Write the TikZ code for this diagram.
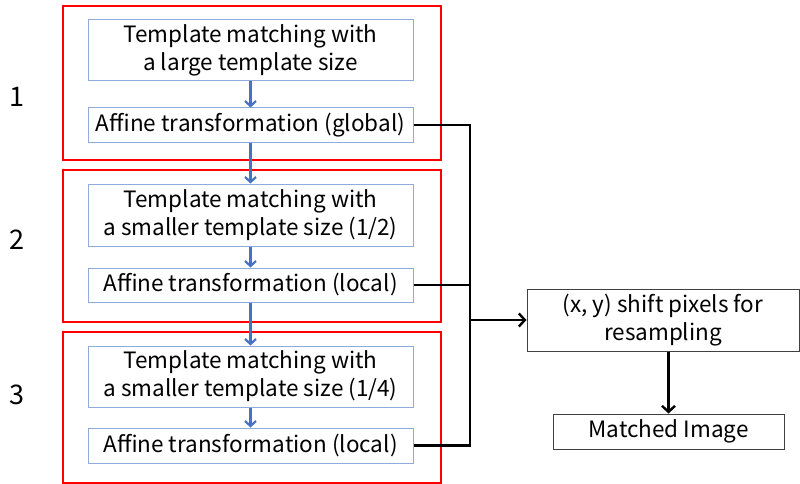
\documentclass[tikz,border=0pt]{standalone}
\usepackage{fontspec}
\setmainfont{Noto Sans CJK JP}
\usetikzlibrary{arrows.meta}
\definecolor{boxblue}{RGB}{143,170,220}
\definecolor{arrowblue}{RGB}{68,114,196}
\begin{document}
\begin{tikzpicture}[x=1pt,y=-1pt,
  stage/.style={draw=red,line width=2pt,minimum width=378pt},
  step box/.style={draw=boxblue,line width=1pt,align=center,font=\fontsize{22.5}{28}\selectfont,minimum width=325pt,inner sep=0pt},
  out box/.style={draw=black!75,line width=1pt,align=center,font=\fontsize{22.5}{28}\selectfont,inner sep=0pt},
  blue arrow/.style={draw=arrowblue,line width=2.2pt,-{Straight Barb[length=5pt,width=11pt]}},
  black line/.style={draw=black,line width=2.4pt},
  num/.style={font=\fontsize{27}{30}\selectfont}]
\useasboundingbox (0,0) rectangle (800,484);
\node [stage,minimum height=154pt] (stage1) at (252,83) {};
\node [stage,minimum height=152pt] (stage2) at (252,246) {};
\node [stage,minimum height=151pt] (stage3) at (252,407.5) {};
\node [num] (n1) at (17,97) {1};
\node [num] (n2) at (17,240) {2};
\node [num] (n3) at (17,395) {3};
\node [step box,minimum height=61pt] (tm1) at (250.5,50.5) {Template matching with\\a large template size};
\node [step box,minimum height=34pt] (af1) at (250.5,125) {Affine transformation (global)};
\node [step box,minimum height=62pt] (tm2) at (250.5,215) {Template matching with\\a smaller template size (1/2)};
\node [step box,minimum height=34pt] (af2) at (250.5,285) {Affine transformation (local)};
\node [step box,minimum height=61pt] (tm3) at (250.5,376.5) {Template matching with\\a smaller template size (1/4)};
\node [step box,minimum height=35pt] (af3) at (250.5,445.5) {Affine transformation (local)};
\node [out box,minimum width=272pt,minimum height=62pt] (shift) at (663,320) {(x, y) shift pixels for\\resampling};
\node [out box,minimum width=231pt,minimum height=35pt] (matched) at (668.5,431.5) {Matched Image};
\coordinate (bus1) at (470,125);
\coordinate (bus3) at (470,445.5);
\draw [blue arrow] (tm1) -- (af1);
\draw [blue arrow] (af1) -- (tm2);
\draw [blue arrow] (tm2) -- (af2);
\draw [blue arrow] (af2) -- (tm3);
\draw [blue arrow] (tm3) -- (af3);
\draw [black line] (af1.east) -- (bus1) -- (bus3) -- (af3.east);
\draw [black line] (af2.east) -- (af2.east -| bus1);
\draw [black line,-{Straight Barb[length=6pt,width=13pt]}] (shift.west -| bus1) -- (shift.west);
\draw [black line,-{Straight Barb[length=6pt,width=13pt]}] (matched.north |- shift.south) -- (matched.north);
\end{tikzpicture}
\end{document}
